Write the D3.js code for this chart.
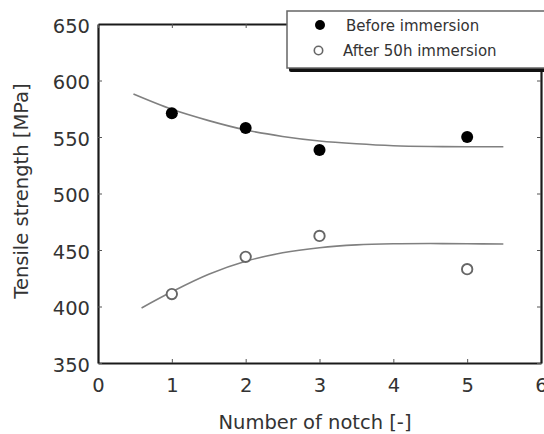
<!DOCTYPE html>
<html>
<head>
<meta charset="utf-8">
<script src="https://cdn.jsdelivr.net/npm/d3@7/dist/d3.min.js"></script>
<style>
  html, body { margin: 0; padding: 0; background: #fff; }
  svg { display: block; }
  text { font-family: "DejaVu Sans", sans-serif; fill: #333; }
</style>
</head>
<body>
<script>
// Notch count on x, tensile strength (MPa) on y
const notches = [1, 2, 3, 5];
const beforeValues = [571, 558, 538.5, 550];
const afterValues = [411, 444, 462.5, 433];

// Fitted trend lines
const beforeFitX = [0.48, 1, 1.5, 2, 2.5, 3, 3.5, 4, 4.5, 5, 5.49];
const beforeFitY = [588, 574.5, 564.5, 556.2, 550.5, 546.5, 544, 542.3, 541.6, 541.4, 541.4];
const afterFitX = [0.59, 1, 1.5, 2, 2.5, 3, 3.5, 4, 4.5, 5, 5.49];
const afterFitY = [398.7, 413, 428.5, 440, 447.5, 452, 454.5, 455.5, 455.7, 455.5, 455.3];

const xTicks = [0, 1, 2, 3, 4, 5, 6];
const yTicks = [350, 400, 450, 500, 550, 600, 650];
const legendLabels = ['Before immersion', 'After 50h immersion'];

const width = 544, height = 434;
const margin = {top: 24, right: 3, bottom: 71, left: 98};

const svg = d3.select('body').append('svg')
  .attr('width', width)
  .attr('height', height);

const x = d3.scaleLinear().domain([0, 6]).range([margin.left, width - margin.right]);
const y = d3.scaleLinear().domain([350, 650]).range([height - margin.bottom, margin.top]);

// Axes: ticks point inward on all four sides
function styleAxis(g) {
  g.select('.domain').attr('stroke', '#1a1a1a').attr('stroke-width', 2.2);
  g.selectAll('.tick line').attr('stroke', '#555').attr('stroke-width', 1);
  g.selectAll('.tick text')
    .attr('fill', '#333')
    .style('font-size', '19.5px');
}

svg.append('g')
  .attr('transform', 'translate(0,' + y(350) + ')')
  .call(d3.axisBottom(x).tickValues(xTicks).tickFormat(d3.format('d'))
    .tickSizeInner(-4).tickSizeOuter(0).tickPadding(15))
  .call(styleAxis);

svg.append('g')
  .attr('transform', 'translate(' + x(0) + ',0)')
  .call(d3.axisLeft(y).tickValues(yTicks).tickFormat(d3.format('d'))
    .tickSizeInner(-4).tickSizeOuter(0).tickPadding(8))
  .call(styleAxis)
  .selectAll('.tick text').attr('dy', '0.42em');

svg.append('g')
  .attr('transform', 'translate(0,' + y(650) + ')')
  .call(d3.axisTop(x).tickValues(xTicks).tickFormat('')
    .tickSizeInner(-4).tickSizeOuter(0))
  .call(styleAxis);

svg.append('g')
  .attr('transform', 'translate(' + x(6) + ',0)')
  .call(d3.axisRight(y).tickValues(yTicks).tickFormat('')
    .tickSizeInner(-4).tickSizeOuter(0))
  .call(styleAxis);

// Axis titles
svg.append('text')
  .attr('x', 315)
  .attr('y', 429)
  .attr('text-anchor', 'middle')
  .style('font-size', '19.5px')
  .text('Number of notch [-]');

svg.append('text')
  .attr('transform', 'translate(28,' + 191 + ') rotate(-90)')
  .attr('text-anchor', 'middle')
  .style('font-size', '19.5px')
  .text('Tensile strength [MPa]');

// Trend curves
const line = d3.line()
  .x(d => x(d[0]))
  .y(d => y(d[1]))
  .curve(d3.curveCatmullRom);

svg.append('path')
  .datum(d3.zip(beforeFitX, beforeFitY))
  .attr('d', line)
  .attr('fill', 'none')
  .attr('stroke', '#808080')
  .attr('stroke-width', 1.6);

svg.append('path')
  .datum(d3.zip(afterFitX, afterFitY))
  .attr('d', line)
  .attr('fill', 'none')
  .attr('stroke', '#808080')
  .attr('stroke-width', 1.6);

// Measured points
svg.selectAll('circle.before')
  .data(d3.zip(notches, beforeValues))
  .enter().append('circle')
  .attr('class', 'before')
  .attr('cx', d => x(d[0]))
  .attr('cy', d => y(d[1]))
  .attr('r', 6)
  .attr('fill', '#000');

svg.selectAll('circle.after')
  .data(d3.zip(notches, afterValues))
  .enter().append('circle')
  .attr('class', 'after')
  .attr('cx', d => x(d[0]))
  .attr('cy', d => y(d[1]))
  .attr('r', 5.2)
  .attr('fill', '#fff')
  .attr('stroke', '#666')
  .attr('stroke-width', 1.9);

// Legend box with drop shadow, running off the right edge
const legend = svg.append('g');
legend.append('rect')
  .attr('x', 289).attr('y', 15)
  .attr('width', 300).attr('height', 57)
  .attr('rx', 2)
  .attr('fill', '#111');
legend.append('rect')
  .attr('x', 287).attr('y', 11)
  .attr('width', 300).attr('height', 57)
  .attr('fill', '#fff')
  .attr('stroke', '#666')
  .attr('stroke-width', 1.5);

legend.append('circle')
  .attr('cx', 320).attr('cy', 25).attr('r', 5)
  .attr('fill', '#000');
legend.append('circle')
  .attr('cx', 318.5).attr('cy', 50.5).attr('r', 4.2)
  .attr('fill', '#fff').attr('stroke', '#666').attr('stroke-width', 1.6);

legend.selectAll('text.lbl')
  .data(legendLabels)
  .enter().append('text')
  .attr('class', 'lbl')
  .attr('x', (d, i) => i === 0 ? 346 : 343)
  .attr('y', (d, i) => i === 0 ? 30.5 : 56)
  .style('font-size', '15px')
  .text(d => d);
</script>
</body>
</html>
